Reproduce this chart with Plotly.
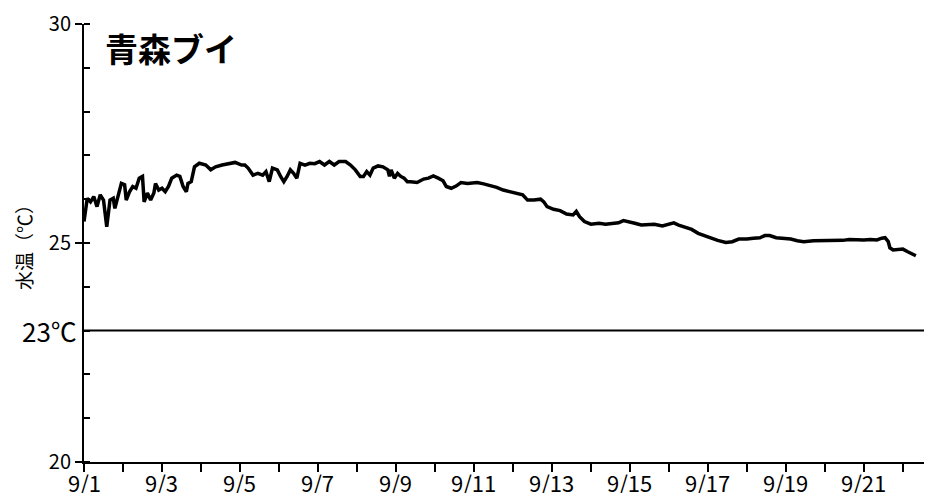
import pandas as pd
import plotly.graph_objects as go

# hours since 2023-09-01 00:00
hours = [0, 2, 4, 6, 8, 10, 12, 14, 16, 18, 19, 21, 23, 25, 26, 28, 30, 32, 34, 36, 37, 39, 41, 43, 44, 46, 48, 50, 52, 54, 57, 59, 61, 63, 64, 66, 68, 71, 75, 78, 81, 85, 89, 93, 97,
         99, 101, 104, 107, 110, 112, 114, 116, 119, 121, 123, 125, 127, 129, 131, 133, 136, 139, 142, 145, 148, 151, 154, 157, 161, 164, 167, 170, 172, 174, 176, 178, 181, 184, 187, 188, 189, 191, 193, 195, 197, 199,
         201, 205, 209, 212, 215, 218, 221, 223, 226, 229, 232, 236, 242, 246, 250, 254, 258, 262, 266, 270, 273, 277, 281, 283, 285, 289, 293, 297, 301,
         303, 305, 308, 312, 317, 321, 325, 329, 332, 335, 339, 343, 347, 351, 356, 360, 363, 366, 370, 374, 378, 382, 386, 390, 395, 399, 403,
         408, 412, 416, 419, 422, 426, 430, 435, 439, 443, 449, 455, 461, 467, 471, 476, 480, 484, 488, 491, 493, 495, 496, 498, 501, 504, 507, 510, 512]
temps = [25.49, 26.02, 25.94, 26.06, 25.83, 26.10, 25.98, 25.37, 25.98, 26.02, 25.79, 26.06, 26.36, 26.33, 25.98, 26.17, 26.29, 26.25, 26.48, 26.52, 25.94, 26.14, 25.98, 26.14, 26.36, 26.21, 26.25, 26.17, 26.29, 26.48, 26.55, 26.52, 26.29, 26.17, 26.36, 26.40, 26.74, 26.82, 26.78, 26.67, 26.74, 26.78, 26.82, 26.84, 26.78,
         26.78, 26.71, 26.55, 26.59, 26.55, 26.63, 26.40, 26.71, 26.67, 26.52, 26.40, 26.52, 26.67, 26.59, 26.48, 26.82, 26.78, 26.82, 26.81, 26.86, 26.78, 26.86, 26.78, 26.86, 26.86, 26.78, 26.67, 26.52, 26.52, 26.63, 26.55, 26.71, 26.76, 26.74, 26.67, 26.52, 26.67, 26.48, 26.59, 26.52, 26.48, 26.40,
         26.40, 26.38, 26.46, 26.48, 26.53, 26.48, 26.42, 26.29, 26.25, 26.30, 26.38, 26.36, 26.38, 26.35, 26.32, 26.27, 26.21, 26.17, 26.12, 26.10, 25.98, 25.98, 26.00, 25.94, 25.83, 25.77, 25.74, 25.66, 25.64,
         25.72, 25.60, 25.49, 25.43, 25.45, 25.43, 25.45, 25.46, 25.51, 25.49, 25.45, 25.41, 25.43, 25.43, 25.39, 25.43, 25.46, 25.41, 25.37, 25.31, 25.22, 25.16, 25.11, 25.06, 25.01, 25.03, 25.09,
         25.09, 25.11, 25.12, 25.17, 25.17, 25.12, 25.11, 25.09, 25.05, 25.03, 25.05, 25.05, 25.05, 25.06, 25.08, 25.07, 25.07, 25.08, 25.07, 25.11, 25.12, 25.03, 24.89, 24.84, 24.86, 24.86, 24.80, 24.74, 24.71]

days = list(range(1, 23))
label_days = [d for d in days if d % 2 == 1]
y_tick_vals = [20, 25, 30]
y_tick_text = ["20", "25", "30"]
threshold = 23
title_text = "青森ブイ"
y_title = "水温（℃）"

base = pd.Timestamp("2023-09-01 00:00")
times = [base + pd.Timedelta(hours=h) for h in hours]
tick_dates = [pd.Timestamp(f"2023-09-{d:02d}") for d in days]
x_range = [base, base + pd.Timedelta(hours=517)]

FONT = "Noto Sans CJK JP"

fig = go.Figure()
fig.add_trace(go.Scatter(x=times, y=temps, mode="lines",
                         line=dict(color="black", width=3.5), showlegend=False,
                         hoverinfo="skip"))

fig.add_shape(type="line", xref="paper", x0=0, x1=1, yref="y", y0=threshold, y1=threshold,
              line=dict(color="black", width=2))

fig.add_annotation(text=f"<b>{title_text}</b>", xref="paper", yref="paper",
                   x=0.0226, y=0.946, xanchor="left", yanchor="middle", showarrow=False,
                   font=dict(family=FONT, size=33, color="black"))
fig.add_annotation(text=f"{threshold}℃", xref="paper", yref="y",
                   x=-0.006, y=threshold, xanchor="right", yanchor="middle", showarrow=False,
                   font=dict(family=FONT, size=26, color="black"))
fig.add_annotation(text=y_title, xref="paper", yref="paper",
                   x=-0.0726, y=0.5, xanchor="center", yanchor="middle", showarrow=False,
                   textangle=-90, font=dict(family=FONT, size=19, color="black"))

# date labels every other day, placed just below the tick marks
for d in label_days:
    fig.add_annotation(text=f"9/{d}", xref="x", yref="paper",
                       x=pd.Timestamp(f"2023-09-{d:02d}"), y=0, yanchor="top", xanchor="center",
                       yshift=-3, showarrow=False, borderpad=0,
                       font=dict(family=FONT, size=22, color="black"))

# the page body has an 8px default margin, so the figure is sized/offset to compensate
fig.update_layout(
    width=930, height=485,
    margin=dict(l=76, r=14, t=16, b=31, autoexpand=False),
    paper_bgcolor="white", plot_bgcolor="white",
    font=dict(family=FONT, color="black"),
    xaxis=dict(type="date", range=x_range,
               tickmode="array", tickvals=tick_dates, showticklabels=False,
               ticks="outside", ticklen=8, tickwidth=2, tickcolor="black",
               showline=True, linewidth=2, linecolor="black", automargin=False,
               showgrid=False, zeroline=False),
    yaxis=dict(range=[20, 30], tickmode="array", tickvals=y_tick_vals, ticktext=y_tick_text,
               ticks="outside", ticklen=7, tickwidth=2, tickcolor="black",
               minor=dict(ticks="inside", dtick=1, tick0=20, ticklen=6, tickwidth=2, tickcolor="black"),
               showline=True, linewidth=2, linecolor="black", automargin=False,
               showgrid=False, zeroline=False, tickfont=dict(size=20, family=FONT)),
)

fig.write_html("out.html")
